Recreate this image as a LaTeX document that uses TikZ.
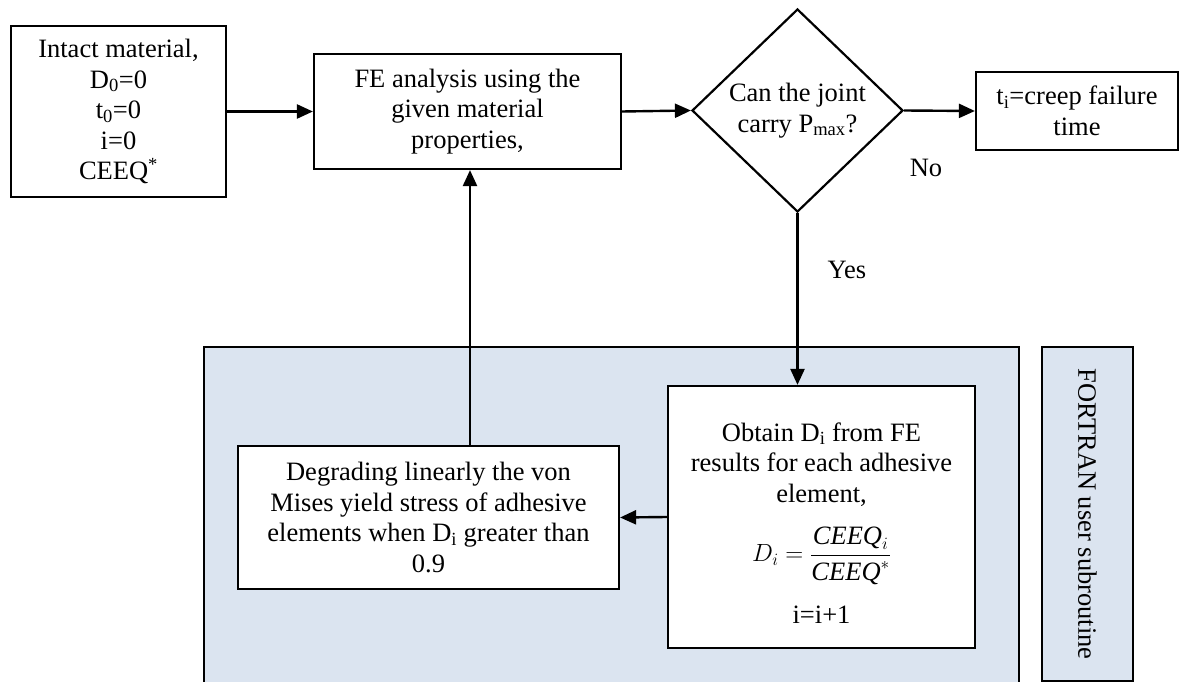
\documentclass[tikz,border=0pt]{standalone}
\usepackage{fontspec}
\setmainfont{Liberation Serif}
\usetikzlibrary{arrows.meta,shapes.geometric}
\definecolor{subfill}{RGB}{219,228,240}
\tikzset{
  box/.style={draw=black,line width=2.2pt,fill=white,align=center,inner sep=0pt},
  flow/.style={line width=2.4pt,-{Triangle[length=16pt,width=14pt]}},
  lbl/.style={inner sep=0pt}
}
\begin{document}
\begin{tikzpicture}[x=1pt,y=-1pt,font=\fontsize{26.5}{30.5}\selectfont]
\clip (0,0) rectangle (1179,682);
% shaded region handled by the user subroutine
\draw[line width=2.2pt,fill=subfill] (204,347) rectangle (1019,720);
\node[box,fill=subfill,minimum width=91pt,minimum height=334pt] (fort) at (1087.5,514)
  {};
\node[lbl,rotate=-90] (forttext) at (1087.5,514) {FORTRAN user subroutine};
% main flow
\node[box,minimum width=215pt,minimum height=171pt] (intact) at (118.5,111.5)
  {Intact material,\\D\textsubscript{0}=0\\t\textsubscript{0}=0\\i=0\\CEEQ\textsuperscript{*}};
\node[box,minimum width=307pt,minimum height=115pt] (fe) at (467.5,111.5)
  {FE analysis using the\\given material\\properties,};
\node[box,shape=diamond,aspect=1.04,minimum width=211pt,minimum height=203pt] (dec) at (797.5,110.5)
  {Can the joint\\carry P\textsubscript{max}?};
\node[box,minimum width=202pt,minimum height=78pt] (fail) at (1077,111)
  {t\textsubscript{i}=creep failure\\time};
\node[box,minimum width=381pt,minimum height=143pt] (degr) at (428.5,517.5)
  {Degrading linearly the von\\Mises yield stress of adhesive\\elements when D\textsubscript{i} greater than\\0.9};
\node[box,minimum width=307pt,minimum height=262pt] (obt) at (821.5,517) {};
\node[lbl,align=center] (obttext) at (821.5,523)
  {Obtain D\textsubscript{i} from FE\\results for each adhesive\\element,\\[20pt]
   $\displaystyle D_i=\frac{\mathit{CEEQ}_{i}\rule[-6pt]{0pt}{0pt}}{\rule{0pt}{24pt}\mathit{CEEQ}^{*}}$\\[20pt] i=i+1};
% connectors
\draw[flow] (intact.east) -- (fe.west);
\draw[flow] (fe.east) -- (dec.west);
\draw[flow] (dec.east) -- (fail.west);
\draw[flow] (dec.south) -- (dec.south |- obt.north);
\draw[flow] (obt.west) -- (degr.east);
\coordinate (up) at (470,446);
\draw[flow] (up) -- (up |- fe.south);
% branch labels
\node[lbl] (no) at (926,168) {No};
\node[lbl] (yes) at (847,270) {Yes};
\end{tikzpicture}
\end{document}
